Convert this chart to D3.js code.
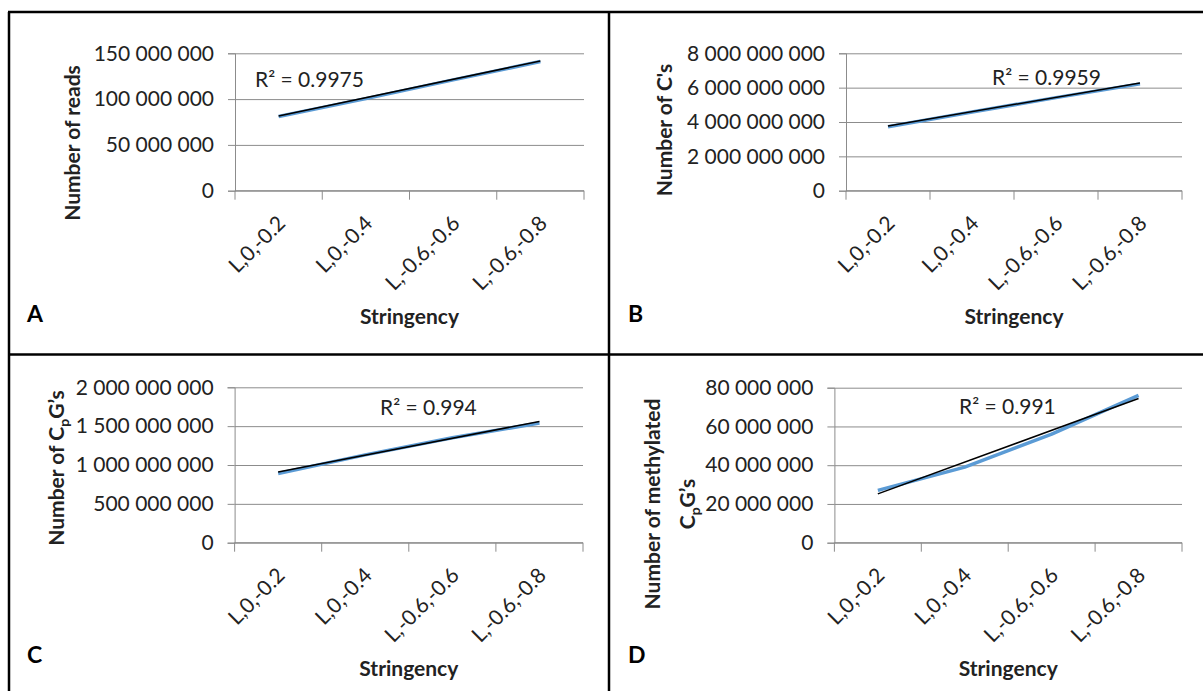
<!DOCTYPE html>
<html>
<head>
<meta charset="utf-8">
<script src="https://cdn.jsdelivr.net/npm/d3@7"></script>
<style>
    html, body { margin: 0; padding: 0; background: #fff; }
    svg { display: block; font-family: Lato, 'Liberation Sans', sans-serif; }
</style>
</head>
<body>
<svg id="chart" width="1203" height="691"></svg>
<script>
// stringency settings on the x axis (same for all four panels)
const categories = ['L,0,-0.2', 'L,0,-0.4', 'L,-0.6,-0.6', 'L,-0.6,-0.8'];

// series values
const readsValues  = [81e6, 100.5e6, 121e6, 141e6];
const cValues      = [3.72e9, 4.58e9, 5.42e9, 6.22e9];
const cpgValues    = [0.89e9, 1.13e9, 1.35e9, 1.54e9];
const methylValues = [27e6, 39e6, 56e6, 76e6];

// y tick values
const readsTicks  = [0, 50e6, 100e6, 150e6];
const cTicks      = [0, 2e9, 4e9, 6e9, 8e9];
const cpgTicks    = [0, 0.5e9, 1e9, 1.5e9, 2e9];
const methylTicks = [0, 20e6, 40e6, 60e6, 80e6];

// R² labels of the linear trendlines
const r2Labels = ['0.9975', '0.9959', '0.994', '0.991'];

const BLUE = '#5b9bd5';
const GRID = '#8c8c8c';
const TEXT = '#222';

const fmt = d3.formatLocale({ decimal: '.', thousands: ' ', grouping: [3], currency: ['', ''] }).format(',');

const svg = d3.select('#chart');

// panel layout (plot rectangle, label positions)
const panels = [
    { letter: 'A', values: readsValues, ticks: readsTicks, r2: r2Labels[0],
      left: 235, right: 584, top: 53.3, bottom: 190.7,
      title: ['Number of reads'], titleX: [80], titleY: 143,
      letterX: 27, letterY: 322, xTitleY: 324, r2X: 255, r2Y: 87 },
    { letter: 'B', values: cValues, ticks: cTicks, r2: r2Labels[1],
      left: 846, right: 1182, top: 53.3, bottom: 190.7,
      title: ["Number of C's"], titleX: [672], titleY: 130,
      letterX: 628, letterY: 322, xTitleY: 324, r2X: 992, r2Y: 85 },
    { letter: 'C', values: cpgValues, ticks: cpgTicks, r2: r2Labels[2],
      left: 234.6, right: 583, top: 387.3, bottom: 542.7,
      title: ['cpg'], titleX: [64], titleY: 468,
      letterX: 27, letterY: 663, xTitleY: 676, r2X: 380, r2Y: 415 },
    { letter: 'D', values: methylValues, ticks: methylTicks, r2: r2Labels[3],
      left: 834.4, right: 1182, top: 387.7, bottom: 542.7,
      title: ['Number of methylated', 'cpg'], titleX: [660, 695], titleY: 504,
      letterX: 628, letterY: 663, xTitleY: 676, r2X: 959, r2Y: 414 }
];

function addCpG(text) {
    text.append('tspan').text('C');
    text.append('tspan').attr('font-size', 14).attr('dy', 5).text('p');
    text.append('tspan').attr('dy', -5).text('G\u2019s');
}

panels.forEach(function(p) {
    const g = svg.append('g');

    const x = d3.scaleBand()
        .domain(categories)
        .range([p.left, p.right]);

    const y = d3.scaleLinear()
        .domain([0, d3.max(p.ticks)])
        .range([p.bottom, p.top]);

    // gridlines + y axis
    g.append('g')
        .attr('transform', 'translate(' + p.left + ',0)')
        .call(d3.axisLeft(y).tickValues(p.ticks).tickSize(7).tickPadding(14).tickFormat(fmt))
        .call(function(a) {
            a.select('.domain').attr('stroke', GRID);
            a.selectAll('.tick line').attr('stroke', GRID);
            a.selectAll('.tick').append('line')
                .attr('x1', 0).attr('x2', p.right - p.left)
                .attr('stroke', GRID);
            a.selectAll('text')
                .attr('fill', TEXT)
                .style('font-size', '21px')
                .style('font-family', 'Lato, sans-serif');
        });

    // x axis with ticks at band boundaries
    const bounds = categories.map(function(c) { return x(c); }).concat([x.range()[1]]);
    const xa = g.append('g');
    xa.append('line')
        .attr('x1', p.left).attr('x2', p.right)
        .attr('y1', p.bottom).attr('y2', p.bottom)
        .attr('stroke', GRID);
    xa.selectAll('.xt')
        .data(bounds)
        .enter()
        .append('line')
        .attr('x1', function(d) { return d; })
        .attr('x2', function(d) { return d; })
        .attr('y1', p.bottom)
        .attr('y2', p.bottom + 9)
        .attr('stroke', GRID);
    xa.selectAll('.xl')
        .data(categories)
        .enter()
        .append('text')
        .attr('transform', function(d) {
            return 'translate(' + (x(d) + x.bandwidth() / 2 + 8) + ',' + (p.bottom + 34) + ') rotate(-45)';
        })
        .attr('text-anchor', 'end')
        .attr('fill', TEXT)
        .style('font-size', '21px')
        .text(function(d) { return d; });

    // data line
    const pts = p.values.map(function(v, i) {
        return { cx: x(categories[i]) + x.bandwidth() / 2, v: v };
    });
    const line = d3.line()
        .x(function(d) { return d.cx; })
        .y(function(d) { return y(d.v); });

    g.append('path')
        .datum(pts)
        .attr('fill', 'none')
        .attr('stroke', BLUE)
        .attr('stroke-width', 3.5)
        .attr('stroke-linejoin', 'round')
        .attr('d', line);

    // linear trendline (least squares over category index)
    const xs = pts.map(function(d, i) { return i + 1; });
    const mx = d3.mean(xs);
    const my = d3.mean(p.values);
    const slope = d3.sum(xs, function(xi, i) { return (xi - mx) * (p.values[i] - my); }) /
                  d3.sum(xs, function(xi) { return (xi - mx) * (xi - mx); });
    const trend = [pts[0], pts[pts.length - 1]].map(function(d, k) {
        const xi = k === 0 ? 1 : xs.length;
        return { cx: d.cx, v: my + slope * (xi - mx) };
    });
    g.append('path')
        .datum(trend)
        .attr('fill', 'none')
        .attr('stroke', '#000')
        .attr('stroke-width', 1.5)
        .attr('transform', 'translate(0,-0.6)')
        .attr('d', line);

    // R² label
    g.append('text')
        .attr('x', p.r2X)
        .attr('y', p.r2Y)
        .attr('fill', TEXT)
        .style('font-size', '21px')
        .text('R\u00b2 = ' + p.r2);

    // y title
    p.title.forEach(function(t, i) {
        const tx = g.append('text')
            .attr('transform', 'translate(' + p.titleX[i] + ',' + p.titleY + ') rotate(-90)')
            .attr('text-anchor', 'middle')
            .attr('fill', TEXT)
            .style('font-size', '21px')
            .style('font-weight', 'bold');
        if (t === 'cpg') {
            if (i === 0) tx.append('tspan').text('Number of ');
            addCpG(tx);
        } else {
            tx.text(t);
        }
    });

    // x title
    g.append('text')
        .attr('x', (p.left + p.right) / 2)
        .attr('y', p.xTitleY)
        .attr('text-anchor', 'middle')
        .attr('fill', TEXT)
        .style('font-size', '21px')
        .style('font-weight', 'bold')
        .text('Stringency');

    // panel letter
    g.append('text')
        .attr('x', p.letterX)
        .attr('y', p.letterY)
        .attr('fill', '#000')
        .style('font-size', '23px')
        .style('font-weight', 'bold')
        .text(p.letter);
});

// frame
const frame = svg.append('g')
    .attr('stroke', '#000')
    .attr('stroke-width', 2.5);
frame.append('line').attr('x1', 8).attr('x2', 1203).attr('y1', 12).attr('y2', 12);
frame.append('line').attr('x1', 9).attr('x2', 9).attr('y1', 12).attr('y2', 691);
frame.append('line').attr('x1', 609).attr('x2', 609).attr('y1', 12).attr('y2', 691);
frame.append('line').attr('x1', 9).attr('x2', 1203).attr('y1', 354.5).attr('y2', 354.5);
</script>
</body>
</html>
